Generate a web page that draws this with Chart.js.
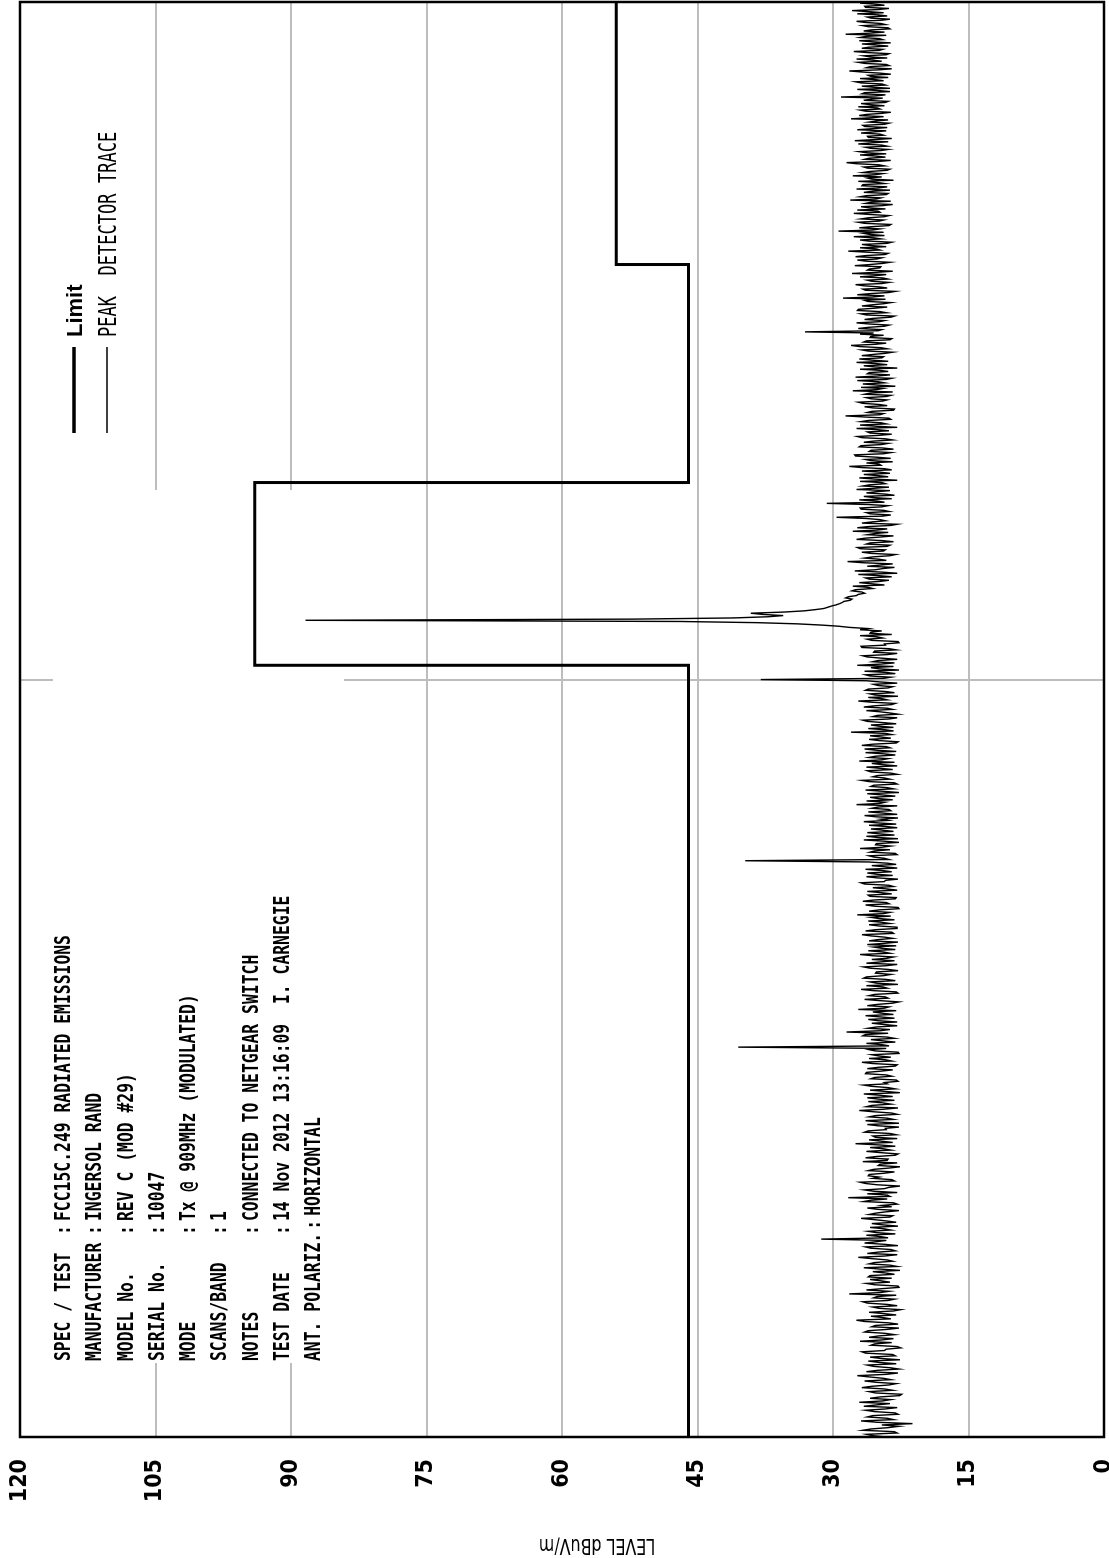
<!DOCTYPE html>
<html>
<head>
<meta charset="utf-8">
<title>FCC15C.249 Radiated Emissions</title>
<script src="https://cdn.jsdelivr.net/npm/chart.js@4.4.1/dist/chart.umd.min.js"></script>
<style>
    html, body { margin: 0; padding: 0; background: #fff; overflow: hidden; }
    #page { position: relative; width: 1109px; height: 1558px; }
    /* the plot is landscape, turned a quarter left onto the portrait sheet */
    #sheet {
        position: absolute; left: 0; top: 0;
        width: 1558px; height: 1109px;
        transform-origin: 0 0;
        transform: translateY(1558px) rotate(-90deg);
    }
</style>
</head>
<body>
<div id="page">
    <div id="sheet"><canvas id="emissionsChart" width="1558" height="1109"></canvas></div>
</div>
<script>
// Sweep 800 - 1000 MHz, evenly spaced points
const SWEEP_START = 800;
const SWEEP_STOP = 1000;

// Peak detector trace, dBuV/m
const peakLevels = [
    24.1, 25.6, 26.3, 22.9, 23.2, 26.7, 25.8, 23.9, 22.7, 24.6, 21.2, 25.1, 26.9, 23.3, 24.0, 26.2, 25.6, 22.8, 23.1, 25.4,
    26.4, 24.2, 22.9, 26.6, 25.2, 23.7, 27.1, 24.5, 23.6, 25.9, 24.8, 22.6, 22.4, 25.3, 26.0, 23.4, 24.3, 26.8, 25.7, 23.8,
    23.0, 25.2, 26.5, 23.6, 24.4, 25.9, 27.3, 24.1, 22.8, 26.3, 25.1, 22.7, 23.7, 25.5, 26.2, 23.0, 24.9, 26.1, 22.6, 24.7,
    25.9, 23.1, 23.4, 26.4, 26.8, 24.3, 24.1, 22.5, 22.9, 25.8, 25.4, 23.5, 27.0, 24.6, 23.3, 26.0, 25.0, 23.2, 24.2, 26.5,
    26.1, 24.0, 22.7, 25.7, 25.3, 22.8, 23.9, 26.5, 27.4, 23.6, 24.5, 25.8, 23.0, 24.4, 26.0, 23.3, 22.5, 24.9, 25.6, 22.9,
    24.0, 26.2, 26.7, 23.9, 23.2, 25.5, 25.1, 23.0, 28.2, 24.8, 23.8, 26.3, 24.6, 22.7, 22.8, 25.4, 26.3, 23.7, 24.7, 25.9,
    23.5, 26.1, 25.9, 23.2, 24.2, 25.6, 22.6, 24.8, 26.6, 22.9, 23.7, 26.0, 25.4, 23.4, 24.0, 25.7, 27.2, 24.3, 22.9, 26.2,
    25.0, 23.1, 23.6, 25.8, 26.4, 22.8, 24.3, 26.5, 25.2, 24.1, 31.3, 23.9, 24.8, 26.3, 23.1, 25.2, 26.1, 23.6, 24.4, 25.9,
    22.8, 24.5, 25.7, 23.0, 24.1, 25.4, 26.9, 23.7, 23.4, 26.0, 25.3, 24.2, 22.7, 25.1, 26.2, 23.5, 24.6, 22.9, 23.3, 26.6,
    25.8, 24.0, 28.3, 23.7, 24.0, 26.2, 22.9, 25.5, 26.5, 24.3, 23.8, 22.6, 25.1, 26.4, 27.0, 23.2, 23.5, 25.6, 24.9, 26.1,
    26.0, 24.3, 23.2, 26.1, 25.5, 23.8, 22.6, 25.0, 24.8, 22.9, 26.7, 24.0, 23.9, 26.4, 25.2, 23.1, 22.8, 24.7, 26.3, 23.6,
    24.4, 25.9, 23.1, 24.8, 27.5, 23.4, 24.7, 26.0, 22.9, 25.3, 25.6, 23.0, 23.7, 26.5, 26.1, 24.1, 24.2, 22.7, 25.0, 26.2,
    22.7, 24.9, 26.4, 23.3, 24.0, 26.0, 25.3, 22.9, 23.5, 25.5, 27.1, 24.4, 22.8, 26.3, 25.7, 23.6, 24.5, 26.1, 23.2, 25.0,
    26.2, 23.4, 24.8, 26.6, 22.6, 24.2, 25.9, 23.1, 23.9, 25.7, 26.6, 24.0, 24.3, 22.8, 23.0, 25.8, 25.4, 23.5, 24.1, 26.4,
    26.3, 24.7, 23.4, 26.2, 25.0, 23.1, 22.9, 25.6, 26.8, 23.5, 24.2, 26.0, 23.6, 24.9, 25.7, 22.7, 22.8, 25.3, 26.0, 24.1,
    40.5, 23.8, 24.6, 26.3, 23.1, 24.5, 25.8, 23.2, 24.0, 26.7, 26.4, 23.9, 28.5, 24.8, 23.7, 26.1, 25.2, 22.9, 24.4, 25.7,
    22.9, 25.0, 26.1, 23.2, 24.7, 26.4, 23.3, 24.6, 25.6, 23.0, 27.2, 24.3, 23.8, 26.2, 25.1, 23.4, 22.7, 24.8, 26.5, 23.9,
    24.2, 26.0, 25.4, 22.8, 23.0, 25.5, 26.9, 24.0, 24.5, 26.3, 22.8, 25.2, 25.9, 23.1, 24.1, 26.6, 26.3, 24.4, 23.6, 25.3,
    25.2, 22.8, 23.9, 25.9, 26.6, 24.1, 22.9, 26.3, 24.8, 23.2, 25.7, 24.0, 23.3, 25.6, 27.0, 23.7, 24.4, 26.1, 23.1, 24.6,
    25.5, 23.0, 26.2, 24.3, 22.8, 26.0, 25.0, 23.4, 24.3, 25.8, 26.8, 23.3, 23.5, 26.4, 25.3, 22.9, 22.9, 24.9, 26.0, 23.7,
    24.6, 26.1, 23.2, 24.9, 25.8, 23.6, 27.3, 24.4, 23.7, 26.0, 24.9, 22.7, 22.8, 25.4, 26.4, 23.8, 24.1, 26.7, 25.5, 23.1,
    23.0, 25.9, 26.1, 23.5, 24.7, 26.2, 22.9, 24.0, 25.6, 23.3, 23.8, 26.5, 26.9, 24.3, 24.2, 22.8, 25.1, 26.3, 23.4, 25.2,
    26.2, 23.5, 24.5, 26.4, 22.9, 24.2, 25.7, 23.0, 24.0, 26.1, 39.7, 23.8, 24.3, 25.5, 26.0, 22.9, 23.1, 25.9, 25.4, 23.7,
    27.0, 24.6, 23.6, 25.3, 25.2, 22.7, 24.4, 26.6, 22.8, 25.0, 26.3, 23.2, 24.9, 26.2, 23.3, 24.5, 25.8, 22.9, 24.1, 26.0,
    23.0, 25.1, 26.6, 23.9, 24.7, 22.8, 25.3, 26.5, 22.9, 24.4, 26.1, 23.6, 23.8, 25.7, 25.0, 22.9, 27.4, 24.8, 24.2, 26.3,
    23.4, 25.0, 25.9, 23.1, 24.6, 26.2, 22.7, 24.5, 26.4, 23.3, 24.0, 25.8, 25.5, 22.9, 23.2, 26.0, 26.8, 23.7, 24.3, 25.6,
    25.1, 22.9, 23.6, 25.8, 26.2, 23.4, 24.8, 26.3, 22.9, 24.5, 25.7, 23.2, 27.1, 24.6, 23.9, 26.0, 25.3, 23.1, 24.4, 26.4,
    23.0, 25.2, 26.5, 23.7, 24.1, 26.8, 25.6, 23.0, 22.8, 24.9, 26.0, 23.6, 24.7, 25.9, 23.5, 24.2, 28.0, 23.3, 24.2, 26.1,
    23.3, 24.9, 25.8, 23.0, 24.5, 26.2, 26.7, 23.8, 22.9, 25.6, 25.1, 22.8, 23.7, 24.8, 26.3, 23.4, 24.0, 26.6, 25.4, 23.5,
    23.1, 25.7, 27.2, 24.0, 24.6, 26.1, 22.8, 25.3, 25.9, 23.2, 24.2, 26.4, 26.1, 23.9, 23.4, 25.0, 25.5, 22.9, 24.8, 26.3,
    38.0, 24.4, 23.6, 25.9, 26.4, 23.1, 24.1, 26.5, 22.7, 24.9, 25.8, 23.3, 27.3, 24.7, 23.2, 25.6, 25.0, 22.9, 24.6, 26.2,
    26.7, 24.0, 22.9, 25.5, 25.4, 23.0, 23.8, 26.8, 26.9, 24.2, 24.3, 22.7, 22.8, 25.7, 26.2, 24.5, 25.1, 27.0, 23.5, 25.9,
    25.8, 24.6, 27.0, 26.1, 28.2, 29.4, 31.4, 34.0, 38.4, 47.0, 88.4, 52.0, 41.0, 37.2, 35.5, 37.8, 39.1, 35.4, 33.2, 32.0,
    31.0, 30.6, 30.2, 29.7, 29.3, 29.0, 28.8, 28.1, 27.9, 28.6, 28.3, 27.4, 27.2, 26.5, 26.8, 27.9, 27.5, 25.6, 26.1, 27.8,
    24.3, 25.7, 27.1, 24.9, 23.8, 26.0, 26.4, 23.5, 25.0, 27.2, 22.9, 24.6, 27.6, 25.3, 24.5, 23.2, 26.2, 24.8, 23.4, 26.7,
    28.4, 24.1, 24.9, 26.5, 25.6, 23.7, 23.1, 25.8, 26.8, 24.4, 24.2, 27.0, 27.3, 24.0, 23.7, 26.3, 25.9, 23.3, 24.6, 27.4,
    26.5, 24.8, 23.3, 26.2, 25.4, 23.9, 27.8, 25.1, 24.0, 27.3, 26.1, 23.6, 22.9, 26.8, 25.7, 24.2, 24.8, 26.4, 29.6, 24.5,
    23.6, 25.9, 26.3, 23.8, 24.4, 26.9, 27.0, 24.6, 23.9, 26.1, 30.7, 24.3, 25.1, 27.1, 23.5, 25.5, 26.6, 23.2, 24.2, 26.3,
    25.3, 23.7, 27.4, 25.5, 23.8, 26.7, 26.0, 24.2, 24.6, 27.0, 22.9, 25.4, 27.1, 23.9, 25.0, 26.6, 23.7, 24.8, 26.8, 23.5,
    24.3, 26.9, 28.2, 24.7, 24.9, 26.3, 23.4, 25.8, 26.4, 23.6, 25.2, 27.5, 27.6, 24.4, 23.6, 26.0, 25.8, 23.3, 24.5, 27.1,
    26.9, 24.6, 23.9, 26.6, 25.5, 23.4, 24.2, 26.8, 27.3, 24.9, 23.5, 25.9, 26.2, 23.8, 25.1, 27.4, 22.9, 25.3, 27.0, 24.1,
    24.7, 26.9, 26.1, 23.6, 23.8, 26.4, 28.6, 24.8, 24.4, 26.2, 25.7, 23.3, 23.2, 25.6, 26.5, 24.0, 24.9, 26.7, 27.2, 24.5,
    24.0, 25.8, 26.3, 24.1, 23.6, 26.5, 25.9, 23.4, 27.8, 25.2, 24.5, 26.9, 23.1, 25.0, 26.7, 24.3, 25.0, 27.3, 24.1, 23.5,
    27.5, 25.1, 23.7, 26.2, 26.0, 23.9, 24.8, 27.0, 22.9, 25.4, 26.6, 24.0, 25.3, 27.4, 23.9, 25.7, 27.1, 24.6, 24.4, 26.8,
    25.6, 24.2, 23.4, 26.1, 26.8, 24.0, 24.7, 27.1, 28.0, 25.3, 24.1, 26.6, 26.3, 23.7, 23.5, 25.9, 25.8, 24.4, 27.0, 25.5,
    33.1, 25.0, 24.6, 27.2, 26.1, 24.3, 23.8, 26.0, 27.4, 24.9, 24.3, 26.5, 25.5, 23.6, 23.2, 26.3, 26.9, 24.1, 24.8, 27.3,
    27.2, 25.4, 24.0, 26.8, 25.7, 24.4, 23.6, 26.1, 26.5, 24.2, 28.9, 25.6, 24.3, 27.3, 25.9, 23.8, 23.1, 26.4, 26.7, 24.0,
    24.9, 26.6, 27.5, 24.6, 23.8, 25.7, 26.2, 23.9, 24.5, 27.0, 25.3, 24.1, 27.9, 25.2, 23.4, 26.2, 26.0, 24.8, 24.7, 27.6,
    25.9, 24.5, 23.7, 26.3, 27.3, 25.1, 24.6, 27.5, 26.4, 24.2, 23.9, 26.1, 28.3, 24.8, 25.2, 27.0, 24.1, 25.8, 26.8, 24.0,
    23.5, 26.0, 27.0, 24.7, 25.5, 27.7, 24.3, 25.9, 26.6, 24.4, 29.4, 25.6, 24.8, 27.1, 25.7, 23.8, 23.6, 26.5, 27.2, 24.9,
    24.4, 26.9, 26.1, 24.3, 23.8, 25.9, 27.7, 24.8, 25.0, 27.3, 24.2, 26.0, 26.9, 24.5, 23.4, 26.4, 25.8, 23.6, 28.1, 25.2,
    24.7, 27.0, 26.3, 24.1, 23.9, 26.6, 25.6, 23.7, 27.4, 25.0, 24.0, 26.8, 26.7, 24.3, 25.1, 27.2, 23.3, 25.7, 26.2, 24.6,
    27.8, 25.3, 24.5, 26.7, 25.9, 24.0, 23.7, 26.2, 26.6, 24.3, 24.9, 27.4, 28.5, 25.1, 23.6, 26.5, 26.0, 24.2, 25.3, 27.0,
    24.1, 26.3, 27.1, 24.7, 23.9, 25.8, 26.4, 24.0, 24.6, 27.2, 25.8, 23.9, 27.6, 25.4, 23.5, 26.1, 26.2, 24.4, 24.8, 26.9,
    25.5, 24.1, 27.3, 25.6, 24.0, 26.5, 26.7, 24.3, 23.8, 26.0, 25.2, 23.9, 28.0, 25.7, 24.4, 27.1, 26.3, 24.6, 23.6, 26.4,
    27.0, 24.8, 25.1, 27.2, 24.3, 25.9, 26.9, 24.2, 23.9, 26.6, 25.7, 24.5, 29.1, 25.3, 24.2, 26.8, 26.5, 23.7, 25.0, 27.3,
    23.7, 25.5, 26.8, 24.2, 24.6, 26.9, 27.5, 24.4, 25.3, 27.0, 23.9, 25.8, 26.1, 23.6, 24.8, 26.7, 28.2, 25.0, 23.5, 26.3,
    25.9, 23.8, 24.1, 26.5, 27.2, 24.6, 25.6, 27.4, 24.0, 25.9, 26.6, 24.1, 23.8, 26.2, 27.7, 24.9, 24.5, 26.8, 26.0, 23.9,
    25.2, 26.8, 23.6, 25.7, 27.1, 24.5, 24.9, 27.0, 26.4, 24.1, 28.6, 25.9, 24.3, 26.6, 25.8, 23.7, 23.9, 26.1, 26.7, 24.2,
    24.7, 26.5, 27.4, 24.6, 23.7, 25.8, 26.2, 24.0, 25.0, 27.3, 24.4, 26.0, 27.9, 24.9, 23.8, 26.4, 26.5, 24.3, 25.3, 27.0,
    24.6
];

// FCC 15.249 limit line
const limitFreqs = [800, 902, 902, 928, 928, 960, 960, 1000];
const limitLevels = [46, 46, 94, 94, 46, 46, 54, 54];

// axes
const levelTicks = [0, 15, 30, 45, 60, 75, 90, 105, 120];
const freqGridLines = [800, 900, 1000];
const levelTitle = 'LEVEL dBuV/m';

// header block
const infoLabels = ['SPEC / TEST', 'MANUFACTURER', 'MODEL No.', 'SERIAL No.', 'MODE',
    'SCANS/BAND', 'NOTES', 'TEST DATE', 'ANT. POLARIZ.'];
const infoValues = ['FCC15C.249 RADIATED EMISSIONS', 'INGERSOL RAND', 'REV C (MOD #29)', '10047',
    'Tx @ 909MHz (MODULATED)', '1', 'CONNECTED TO NETGEAR SWITCH',
    '14 Nov 2012 13:16:09  I. CARNEGIE', 'HORIZONTAL'];

const GRID_GRAY = '#bdbdbd';
const NARROW = '"Liberation Sans Narrow", "DejaVu Sans Condensed", "DejaVu Sans"';

// draw text squeezed sideways, like the plotter font
function drawNarrow(ctx, text, x, y, squeeze) {
    ctx.save();
    ctx.translate(x, y);
    ctx.scale(squeeze, 1);
    ctx.fillText(text, 0, 0);
    ctx.restore();
    return ctx.measureText(text).width * squeeze;
}

const sheetPlugin = {
    id: 'sheet',
    beforeDraw(chart) {
        const ctx = chart.ctx;
        ctx.save();
        ctx.fillStyle = '#fff';
        ctx.fillRect(0, 0, chart.width, chart.height);
        ctx.restore();
    },
    beforeDatasetsDraw(chart) {
        const { ctx, chartArea: a } = chart;
        ctx.save();
        // blank panel behind the header hides the grid
        ctx.fillStyle = '#fff';
        ctx.fillRect(a.left + 74, a.top + 33, 873, 291);

        ctx.fillStyle = '#000';
        ctx.textBaseline = 'alphabetic';
        ctx.font = 'bold 21px "DejaVu Sans Mono"';
        infoLabels.forEach((label, i) => {
            const y = a.top + 50 + i * 31.25;
            const w = drawNarrow(ctx, label, a.left + 76, y, 0.78);
            const colonX = Math.max(a.left + 202, a.left + 76 + w + 3);
            drawNarrow(ctx, ':', colonX, y, 0.78);
            drawNarrow(ctx, infoValues[i], Math.max(a.left + 216, colonX + 14), y, 0.78);
        });
        ctx.restore();
    },
    afterDraw(chart) {
        const { ctx, chartArea: a } = chart;
        ctx.save();
        // frame
        ctx.strokeStyle = '#000';
        ctx.lineWidth = 2.5;
        ctx.strokeRect(a.left, a.top, a.right - a.left, a.bottom - a.top);

        // legend, top right of the plot
        chart.data.datasets.forEach((ds, i) => {
            const y = a.top + 54 + i * 33;
            ctx.strokeStyle = ds.borderColor;
            ctx.lineWidth = i === 0 ? 3.5 : 1.4;
            ctx.beginPath();
            ctx.moveTo(a.left + 1004, y);
            ctx.lineTo(a.left + 1090, y);
            ctx.stroke();

            ctx.fillStyle = '#000';
            if (i === 0) {
                ctx.font = 'bold 22px "Liberation Sans"';
                ctx.fillText(ds.label, a.left + 1100, y + 8);
            } else {
                ctx.font = '24px "DejaVu Sans Mono"';
                drawNarrow(ctx, ds.label, a.left + 1100, y + 9, 0.71);
            }
        });

        // level axis title, sits a little below the middle of the axis
        ctx.save();
        ctx.translate(14, a.top + 577);
        ctx.rotate(-Math.PI / 2);
        ctx.font = '21px ' + NARROW;
        ctx.textAlign = 'center';
        ctx.textBaseline = 'middle';
        ctx.scale(0.84, 1);
        ctx.fillText(levelTitle, 0, 0);
        ctx.restore();

        ctx.restore();
    }
};

function createEmissionsChart() {
    const ctx = document.getElementById('emissionsChart');
    if (!ctx) return;

    const step = (SWEEP_STOP - SWEEP_START) / (peakLevels.length - 1);
    const tracePoints = peakLevels.map((v, i) => ({ x: SWEEP_START + i * step, y: v }));
    const limitPoints = limitFreqs.map((f, i) => ({ x: f, y: limitLevels[i] }));

    new Chart(ctx, {
        type: 'line',
        data: {
            datasets: [{
                label: 'Limit',
                data: limitPoints,
                borderColor: '#000',
                borderWidth: 3,
                pointRadius: 0,
                tension: 0
            }, {
                label: 'PEAK  DETECTOR TRACE',
                data: tracePoints,
                borderColor: '#000',
                borderWidth: 1.4,
                pointRadius: 0,
                tension: 0
            }]
        },
        options: {
            responsive: false,
            animation: false,
            events: [],
            parsing: false,
            normalized: true,
            layout: {
                autoPadding: false,
                padding: { left: 0, right: 2, top: 20, bottom: 5 }
            },
            plugins: {
                legend: { display: false },
                tooltip: { enabled: false }
            },
            scales: {
                x: {
                    type: 'logarithmic',
                    position: 'bottom',
                    min: SWEEP_START,
                    max: SWEEP_STOP,
                    afterBuildTicks: s => { s.ticks = freqGridLines.map(v => ({ value: v })); },
                    afterFit: s => { s.height = 0; s.paddingLeft = 0; s.paddingRight = 0; },
                    ticks: { display: false },
                    grid: { color: GRID_GRAY, lineWidth: 2, drawTicks: false },
                    border: { display: false }
                },
                y: {
                    type: 'linear',
                    min: 0,
                    max: 120,
                    afterBuildTicks: s => { s.ticks = levelTicks.map(v => ({ value: v })); },
                    // fixed axis width; end labels may run past the frame like the original print
                    afterFit: s => { s.width = 121; s.paddingTop = 0; s.paddingBottom = 0; },
                    ticks: {
                        padding: 22,
                        color: '#000',
                        font: { family: NARROW, size: 23, weight: 'bold' },
                        callback: v => String(v)
                    },
                    grid: { color: GRID_GRAY, lineWidth: 2, drawTicks: false },
                    border: { display: false },
                    title: { display: false, text: levelTitle }
                }
            }
        },
        plugins: [sheetPlugin]
    });
}

document.addEventListener('DOMContentLoaded', createEmissionsChart);
</script>
</body>
</html>
